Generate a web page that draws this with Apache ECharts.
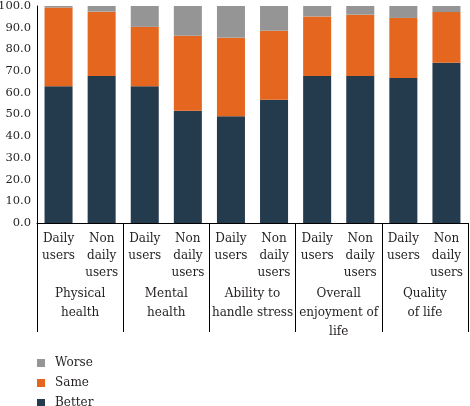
<!DOCTYPE html>
<html><head><meta charset="utf-8">
<script src="https://cdn.jsdelivr.net/npm/echarts@6/dist/echarts.min.js"></script>
<style>html,body{margin:0;padding:0;background:#fff}#c{width:470px;height:406px}</style>
</head><body><div id="c"></div>
<script>
const users = ["Daily\nusers","Non\ndaily\nusers","Daily\nusers","Non\ndaily\nusers","Daily\nusers","Non\ndaily\nusers","Daily\nusers","Non\ndaily\nusers","Daily\nusers","Non\ndaily\nusers"];
const groups = ["Physical\nhealth","Mental\nhealth","Ability to\nhandle stress","Overall\nenjoyment of\nlife","Quality\nof life"];
const better = [63.0, 67.7, 63.0, 51.7, 49.2, 56.8, 67.7, 67.7, 66.8, 73.8];
const same   = [36.3, 29.7, 27.4, 34.6, 36.2, 31.8, 27.5, 28.3, 27.7, 23.4];
const worse  = [0.7, 2.6, 9.6, 13.7, 14.6, 11.4, 4.8, 4.0, 5.5, 2.8];
const legendOrder = ['Worse','Same','Better'];
const yTicks = [0,10,20,30,40,50,60,70,80,90,100];

const font = 'DejaVu Serif';
const fs = 12;
const txt = "#231f20";
const chart = echarts.init(document.getElementById('c'));
const legends = legendOrder.map((name,i)=>({
  orient:'vertical',left:37,top:357+i*20,padding:0,itemWidth:8,itemHeight:8,icon:'rect',itemGap:10,
  data:[name],textStyle:{fontFamily:font,fontSize:fs,color:txt,padding:[0,0,0,5]}
}));
chart.setOption({
  animation:false,
  textStyle:{fontFamily:font,color:txt},
  grid:{left:37,right:2,top:6,bottom:183,containLabel:false,outerBoundsMode:'none'},
  legend:legends,
  xAxis:[
    {type:'category',data:users,position:'bottom',
     axisLine:{lineStyle:{color:'#000',width:1}},axisTick:{show:false},
     axisLabel:{interval:0,margin:7,fontFamily:font,fontSize:fs,lineHeight:17,color:txt}},
    {type:'category',data:groups,position:'bottom',
     axisLine:{show:false},
     axisTick:{show:true,length:109,lineStyle:{color:'#000',width:1}},
     axisLabel:{interval:0,margin:61,fontFamily:font,fontSize:fs,lineHeight:19,color:txt}}
  ],
  yAxis:{type:'value',min:yTicks[0],max:yTicks[yTicks.length-1],interval:10,
    axisLine:{show:true,lineStyle:{color:'#000',width:1}},axisTick:{show:false},splitLine:{show:false},
    axisLabel:{margin:6,fontFamily:font,fontSize:11.5,color:txt,formatter:v=>v.toFixed(1)}},
  series:[
    {name:'Better',type:'bar',stack:'s',data:better,barCategoryGap:'35%',itemStyle:{color:'#243a4d'}},
    {name:'Same',type:'bar',stack:'s',data:same,itemStyle:{color:'#e4661f'}},
    {name:'Worse',type:'bar',stack:'s',data:worse,itemStyle:{color:'#959595'}}
  ]
});
</script></body></html>
